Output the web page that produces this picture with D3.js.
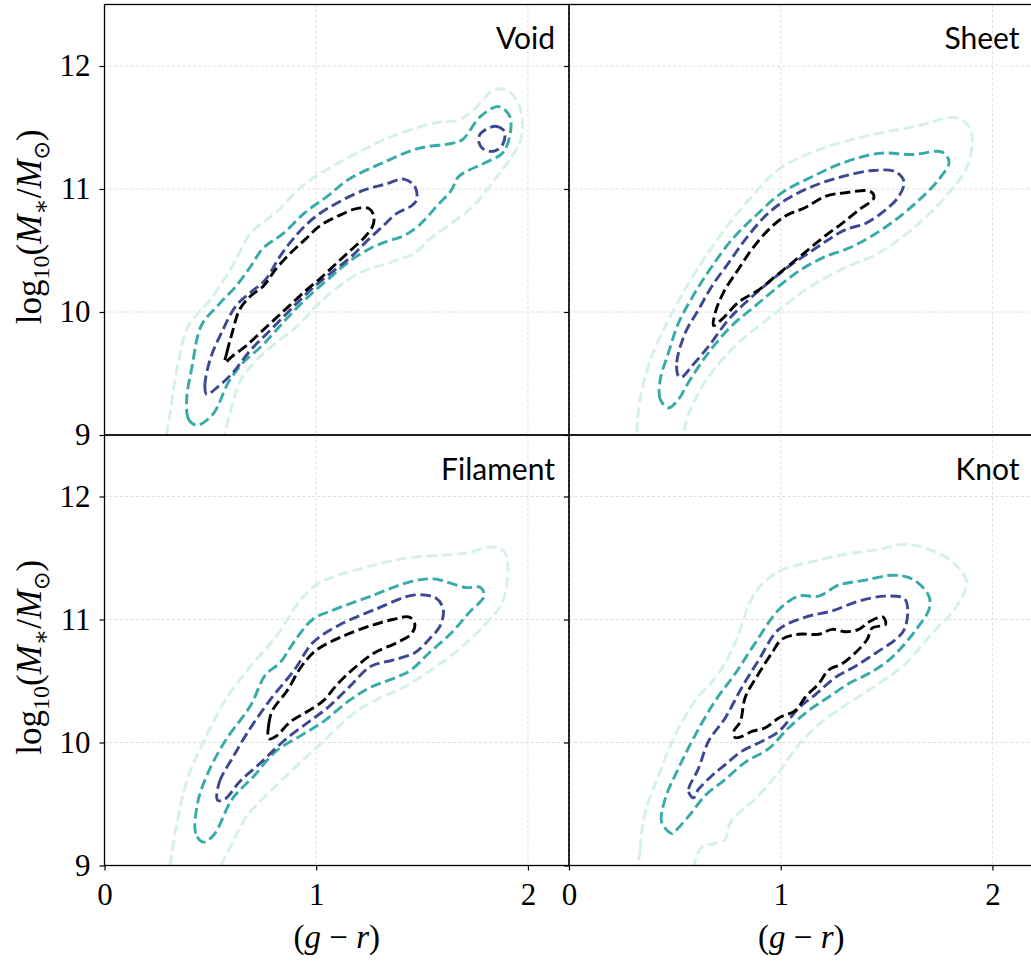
<!DOCTYPE html>
<html><head><meta charset="utf-8">
<script src="https://cdn.jsdelivr.net/npm/d3@7"></script>
<style>body{margin:0;background:#fff;overflow:hidden} svg{display:block}</style>
</head><body>
<svg id="c" width="1031" height="962"></svg>
<script>
// ---------- data ----------
const panelNames = ["Void", "Sheet", "Filament", "Knot"];
const xTicks = [0, 1, 2];
const yTicks = [9, 10, 11, 12];
const xDomain = [0, 2.194];
const yDomain = [9, 12.5];

// contour rings, [g-r, log10 M*] ; level 1 = outermost (light), 4 = innermost (black)
const void1 = [[0.28,8.85],[0.293,9.0],[0.31,9.18],[0.345,9.56],[0.397,9.89],[0.5,10.10],[0.603,10.37],[0.69,10.64],[0.81,10.81],[0.931,11.02],[1.052,11.16],[1.19,11.29],[1.362,11.43],[1.569,11.54],[1.672,11.56],[1.741,11.64],[1.845,11.81],[1.914,11.79],[1.966,11.64],[1.966,11.40],[1.914,11.24],[1.845,11.08],[1.741,10.86],[1.621,10.70],[1.534,10.59],[1.466,10.48],[1.345,10.40],[1.207,10.32],[1.086,10.18],[1.0,10.05],[0.914,9.89],[0.81,9.75],[0.707,9.59],[0.638,9.43],[0.603,9.24],[0.569,9.02],[0.552,8.85]];
const void2 = [[0.431,9.08],[0.397,9.13],[0.388,9.29],[0.414,9.56],[0.457,9.89],[0.534,10.05],[0.621,10.21],[0.69,10.37],[0.75,10.52],[0.845,10.64],[0.948,10.81],[1.052,10.94],[1.155,11.08],[1.31,11.21],[1.483,11.33],[1.638,11.37],[1.69,11.40],[1.776,11.59],[1.862,11.67],[1.914,11.59],[1.914,11.43],[1.879,11.29],[1.793,11.21],[1.672,11.10],[1.638,10.99],[1.569,10.86],[1.483,10.70],[1.414,10.62],[1.345,10.58],[1.259,10.52],[1.155,10.41],[1.052,10.26],[0.966,10.13],[0.879,9.98],[0.81,9.85],[0.741,9.72],[0.655,9.59],[0.586,9.43],[0.517,9.18],[0.457,9.09]];
const void3 = [[0.483,9.33],[0.474,9.40],[0.5,9.62],[0.552,9.83],[0.621,10.05],[0.69,10.16],[0.759,10.26],[0.828,10.45],[0.914,10.64],[1.0,10.78],[1.103,10.89],[1.224,10.99],[1.328,11.04],[1.414,11.08],[1.466,11.02],[1.474,10.91],[1.448,10.86],[1.379,10.80],[1.31,10.69],[1.241,10.58],[1.172,10.46],[1.086,10.34],[1.0,10.22],[0.931,10.11],[0.862,9.99],[0.776,9.84],[0.69,9.69],[0.603,9.50],[0.534,9.39]];
const void3b = [[1.776,11.45],[1.845,11.51],[1.888,11.47],[1.883,11.37],[1.845,11.31],[1.793,11.32],[1.767,11.39]];
const void4 = [[0.569,9.59],[0.578,9.67],[0.603,9.83],[0.638,10.02],[0.69,10.13],[0.75,10.21],[0.81,10.35],[0.879,10.48],[0.948,10.59],[1.017,10.70],[1.103,10.78],[1.19,10.84],[1.25,10.84],[1.272,10.78],[1.267,10.70],[1.224,10.60],[1.155,10.49],[1.086,10.38],[1.017,10.27],[0.948,10.17],[0.879,10.06],[0.81,9.95],[0.741,9.84],[0.672,9.73],[0.603,9.64]];

const sheet1 = [[0.315,8.85],[0.32,9.02],[0.336,9.29],[0.391,9.64],[0.486,9.99],[0.596,10.32],[0.722,10.64],[0.849,10.91],[0.991,11.16],[1.18,11.32],[1.401,11.43],[1.637,11.51],[1.826,11.58],[1.889,11.51],[1.905,11.37],[1.874,11.16],[1.795,10.97],[1.653,10.72],[1.464,10.48],[1.29,10.35],[1.117,10.18],[0.959,9.97],[0.801,9.75],[0.675,9.51],[0.596,9.29],[0.549,9.08],[0.533,8.85]];
const sheet2 = [[0.47,9.22],[0.431,9.29],[0.431,9.45],[0.47,9.67],[0.517,9.91],[0.596,10.16],[0.675,10.37],[0.77,10.59],[0.88,10.78],[1.006,10.97],[1.148,11.10],[1.29,11.21],[1.464,11.29],[1.621,11.28],[1.763,11.30],[1.795,11.22],[1.748,11.08],[1.653,10.91],[1.543,10.75],[1.432,10.62],[1.322,10.52],[1.211,10.45],[1.101,10.35],[0.991,10.21],[0.88,10.05],[0.77,9.89],[0.659,9.67],[0.565,9.43],[0.517,9.29]];
const sheet3 = [[0.517,9.48],[0.509,9.59],[0.549,9.83],[0.612,10.02],[0.675,10.21],[0.754,10.40],[0.833,10.59],[0.927,10.78],[1.022,10.91],[1.148,11.02],[1.29,11.10],[1.432,11.15],[1.543,11.14],[1.582,11.06],[1.558,10.94],[1.495,10.83],[1.4,10.72],[1.306,10.67],[1.227,10.59],[1.132,10.48],[1.038,10.37],[0.943,10.24],[0.849,10.10],[0.754,9.94],[0.659,9.72],[0.58,9.56],[0.533,9.47]];
const sheet4 = [[0.683,9.89],[0.69,9.99],[0.73,10.16],[0.801,10.35],[0.864,10.51],[0.943,10.67],[1.022,10.78],[1.117,10.85],[1.211,10.94],[1.306,10.97],[1.424,10.98],[1.44,10.93],[1.369,10.83],[1.29,10.72],[1.211,10.62],[1.132,10.51],[1.054,10.40],[0.975,10.29],[0.896,10.18],[0.801,10.08],[0.722,9.94]];

const fil1 = [[0.30,8.85],[0.31,9.0],[0.345,9.37],[0.397,9.73],[0.483,10.06],[0.569,10.34],[0.69,10.62],[0.81,10.86],[0.931,11.17],[1.017,11.30],[1.224,11.42],[1.431,11.50],[1.707,11.54],[1.828,11.59],[1.888,11.55],[1.905,11.39],[1.879,11.14],[1.793,10.95],[1.655,10.73],[1.517,10.56],[1.414,10.45],[1.31,10.37],[1.172,10.23],[1.034,10.01],[0.914,9.82],[0.793,9.62],[0.672,9.40],[0.603,9.18],[0.552,9.0],[0.534,8.85]];
const fil2 = [[0.466,9.19],[0.431,9.26],[0.44,9.51],[0.483,9.73],[0.569,10.01],[0.69,10.30],[0.76,10.55],[0.83,10.65],[0.9,10.83],[0.983,11.0],[1.086,11.08],[1.259,11.19],[1.431,11.30],[1.552,11.33],[1.707,11.26],[1.776,11.26],[1.793,11.19],[1.724,11.06],[1.638,10.89],[1.534,10.73],[1.448,10.59],[1.379,10.53],[1.259,10.45],[1.155,10.34],[1.034,10.17],[0.931,10.06],[0.81,9.93],[0.707,9.73],[0.603,9.54],[0.517,9.25]];
const fil3 = [[0.534,9.53],[0.543,9.68],[0.603,9.87],[0.69,10.12],[0.793,10.37],[0.897,10.59],[0.983,10.81],[1.103,10.95],[1.276,11.08],[1.466,11.20],[1.569,11.17],[1.6,11.08],[1.586,10.95],[1.534,10.84],[1.466,10.73],[1.362,10.67],[1.259,10.62],[1.155,10.45],[1.052,10.28],[0.966,10.17],[0.845,10.01],[0.741,9.84],[0.638,9.68],[0.569,9.54]];
const fil4 = [[0.776,10.03],[0.776,10.15],[0.793,10.26],[0.862,10.42],[0.931,10.62],[1.0,10.75],[1.121,10.86],[1.259,10.95],[1.362,11.0],[1.44,11.02],[1.466,10.96],[1.448,10.88],[1.379,10.81],[1.276,10.73],[1.19,10.62],[1.103,10.48],[1.034,10.34],[0.966,10.26],[0.879,10.17],[0.81,10.05]];

const knot1 = [[0.336,8.85],[0.336,9.13],[0.36,9.43],[0.423,9.73],[0.502,10.06],[0.596,10.34],[0.707,10.56],[0.785,10.81],[0.88,11.22],[0.991,11.39],[1.148,11.47],[1.306,11.53],[1.464,11.57],[1.574,11.61],[1.685,11.58],[1.811,11.47],[1.874,11.33],[1.874,11.25],[1.811,11.06],[1.716,10.89],[1.59,10.64],[1.464,10.48],[1.338,10.34],[1.196,10.17],[1.085,9.98],[0.991,9.76],[0.88,9.54],[0.785,9.40],[0.754,9.32],[0.738,9.21],[0.691,9.18],[0.628,9.15],[0.596,9.04],[0.588,8.85]];
const knot2 = [[0.486,9.26],[0.438,9.35],[0.454,9.54],[0.517,9.79],[0.596,10.06],[0.691,10.34],[0.785,10.56],[0.88,10.81],[0.991,11.08],[1.085,11.19],[1.18,11.19],[1.274,11.28],[1.401,11.32],[1.527,11.36],[1.621,11.33],[1.7,11.19],[1.7,11.08],[1.653,10.95],[1.59,10.81],[1.511,10.67],[1.416,10.56],[1.322,10.48],[1.227,10.37],[1.132,10.26],[1.038,10.12],[0.943,9.95],[0.833,9.84],[0.738,9.70],[0.644,9.57],[0.565,9.40],[0.502,9.28]];
const knot3 = [[0.573,9.57],[0.565,9.62],[0.612,9.79],[0.659,10.01],[0.738,10.20],[0.817,10.45],[0.896,10.67],[0.991,10.92],[1.117,11.02],[1.243,11.07],[1.369,11.15],[1.495,11.19],[1.584,11.17],[1.6,11.08],[1.584,10.92],[1.545,10.84],[1.451,10.73],[1.353,10.62],[1.259,10.53],[1.164,10.39],[1.085,10.28],[0.991,10.09],[0.912,10.01],[0.817,9.93],[0.738,9.82],[0.675,9.73],[0.612,9.62],[0.588,9.55]];
const knot4 = [[0.785,10.04],[0.778,10.09],[0.809,10.17],[0.833,10.37],[0.896,10.56],[0.959,10.73],[1.006,10.84],[1.085,10.88],[1.18,10.88],[1.243,10.92],[1.306,10.90],[1.369,10.92],[1.416,10.98],[1.483,11.02],[1.495,10.96],[1.432,10.93],[1.409,10.84],[1.353,10.73],[1.29,10.64],[1.227,10.59],[1.18,10.48],[1.117,10.37],[1.069,10.26],[0.991,10.20],[0.927,10.12],[0.864,10.09],[0.817,10.05]];

// each panel: list of [levelIndex, ring]
const panelContours = [
  [[0, void1], [1, void2], [2, void3], [2, void3b], [3, void4]],
  [[0, sheet1], [1, sheet2], [2, sheet3], [3, sheet4]],
  [[0, fil1], [1, fil2], [2, fil3], [3, fil4]],
  [[0, knot1], [1, knot2], [2, knot3], [3, knot4]]
];

// ---------- style ----------
const levelColors = ["#d4f2e2", "#36aba8", "#3d4893", "#000000"];
const PW = 464.5, PH = 430.5, L0 = 104.5, T0 = 4.5;
const serif = "'Liberation Serif','DejaVu Serif',serif";
const sans = "Lato,'DejaVu Sans',sans-serif";

const svg = d3.select("#c");
const x = d3.scaleLinear().domain(xDomain).range([0, PW]);
const y = d3.scaleLinear().domain(yDomain).range([PH, 0]);
const line = d3.line().x(d => x(d[0])).y(d => y(d[1])).curve(d3.curveCatmullRomClosed.alpha(0.5));

panelNames.forEach((name, i) => {
  const col = i % 2, row = Math.floor(i / 2);
  const g = svg.append("g").attr("transform", `translate(${L0 + col * PW},${T0 + row * PH})`);
  const cid = "clip" + i;
  g.append("clipPath").attr("id", cid).append("rect").attr("width", PW).attr("height", PH);

  // grid
  const grid = g.append("g").attr("stroke", "#d6d6d6").attr("stroke-width", 0.8).attr("stroke-dasharray", "3,2.2");
  grid.selectAll("line.vx").data(xTicks).join("line")
    .attr("x1", d => x(d)).attr("x2", d => x(d)).attr("y1", 0).attr("y2", PH);
  grid.selectAll("line.hy").data(yTicks).join("line")
    .attr("x1", 0).attr("x2", PW).attr("y1", d => y(d)).attr("y2", d => y(d));

  // contours
  const cg = g.append("g").attr("clip-path", `url(#${cid})`);
  cg.selectAll("path").data(panelContours[i]).join("path")
    .attr("d", d => line(d[1]))
    .attr("fill", "none")
    .attr("stroke", d => levelColors[d[0]])
    .attr("stroke-width", 2.9)
    .attr("stroke-dasharray", "10.5,4.6")
    .attr("stroke-linecap", "butt");

  // frame
  g.append("rect").attr("width", PW).attr("height", PH)
    .attr("fill", "none").attr("stroke", "#000").attr("stroke-width", 1.3);

  // y axis
  const ya = d3.axisLeft(y).tickValues(yTicks).tickSize(5).tickPadding(9).tickFormat(d3.format("d"));
  if (col === 1) ya.tickFormat("");
  const yg = g.append("g").call(ya);
  yg.select(".domain").remove();
  yg.selectAll(".tick line").attr("stroke", "#000").attr("stroke-width", 1.2);
  yg.selectAll(".tick text").attr("font-family", serif).attr("font-size", 31).attr("fill", "#000");

  // x axis (bottom row only)
  if (row === 1) {
    const xa = d3.axisBottom(x).tickValues(xTicks).tickSize(5).tickPadding(12).tickFormat(d3.format("d"));
    const xg = g.append("g").attr("transform", `translate(0,${PH})`).call(xa);
    xg.select(".domain").remove();
    xg.selectAll(".tick line").attr("stroke", "#000").attr("stroke-width", 1.2);
    xg.selectAll(".tick text").attr("font-family", serif).attr("font-size", 31).attr("fill", "#000");

    const xl = g.append("text").attr("x", PW / 2).attr("y", PH + 82)
      .attr("text-anchor", "middle").attr("font-family", serif).attr("font-size", 33);
    xl.append("tspan").text("(");
    xl.append("tspan").attr("font-style", "italic").text("g");
    xl.append("tspan").text(" \u2212 ");
    xl.append("tspan").attr("font-style", "italic").text("r");
    xl.append("tspan").text(")");
  }

  // y label (left column)
  if (col === 0) {
    const yl = g.append("text")
      .attr("transform", `translate(${-104.5 + 41},${PH / 2 + 7}) rotate(-90)`)
      .attr("text-anchor", "middle").attr("font-family", serif).attr("font-size", 35);
    yl.append("tspan").text("log");
    yl.append("tspan").attr("font-size", 24).attr("dy", 8).text("10");
    yl.append("tspan").attr("dy", -8).text("(");
    yl.append("tspan").attr("font-style", "italic").text("M");
    yl.append("tspan").attr("font-size", 24).attr("dy", 8).text("\u2217");
    yl.append("tspan").attr("dy", -8).text("/");
    yl.append("tspan").attr("font-style", "italic").text("M");
    yl.append("tspan").attr("font-size", 22).attr("dy", 8).attr("font-family", "'DejaVu Sans'").text("\u2299");
    yl.append("tspan").attr("dy", -8).text(")");
  }

  // panel label
  g.append("text").attr("x", PW - 14).attr("y", 44.5).attr("text-anchor", "end")
    .attr("font-family", sans).attr("font-size", 30).attr("fill", "#000").text(name);
});
</script>
</body></html>
